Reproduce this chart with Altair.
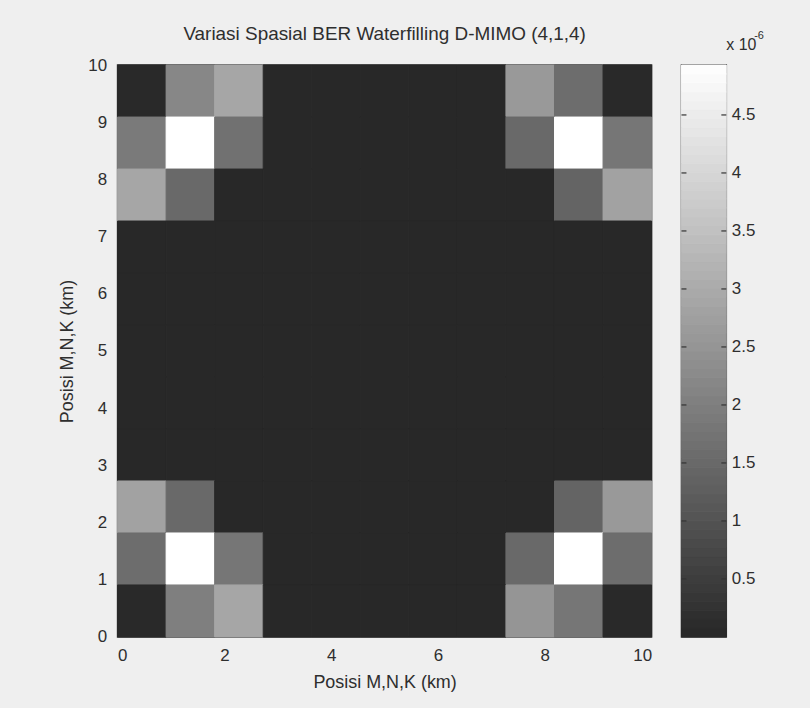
import altair as alt
import pandas as pd
import numpy as np

# ---- data (BER in units of 1e-6) ----
B = 0.03  # near-zero background
rows_top_to_bottom = [
    [0.05, 2.2, 2.9, B, B, B, B, B, 2.6, 1.6, 0.05],
    [1.9, 4.93, 1.7, B, B, B, B, B, 1.5, 4.93, 1.8],
    [2.9, 1.5, B, B, B, B, B, B, B, 1.4, 2.8],
    [B] * 11,
    [B] * 11,
    [B] * 11,
    [B] * 11,
    [B] * 11,
    [2.8, 1.5, B, B, B, B, B, B, B, 1.4, 2.6],
    [1.6, 4.93, 1.8, B, B, B, B, B, 1.5, 4.93, 1.6],
    [0.05, 2.0, 2.9, B, B, B, B, B, 2.5, 1.8, 0.05],
]
n_cells = 11
extent_km = 10
cbar_ticks = [0.5, 1, 1.5, 2, 2.5, 3, 3.5, 4, 4.5]
cbar_min, cbar_max = 0.0, 4.93
n_levels = 64

title_text = "Variasi Spasial BER Waterfilling D-MIMO (4,1,4)"
axis_title = "Posisi M,N,K (km)"
exp_base = ["x 10"]
exp_power = ["-6"]

# ---- build tables ----
step = extent_km / n_cells
recs = []
for r, row in enumerate(rows_top_to_bottom):
    yi = n_cells - 1 - r
    for c, v in enumerate(row):
        recs.append({"x": c * step, "x2": (c + 1) * step,
                     "y": yi * step, "y2": (yi + 1) * step, "ber": v})
cells = pd.DataFrame(recs)

lv = [(cbar_max - cbar_min) * i / n_levels + cbar_min for i in range(n_levels + 1)]
levels = pd.DataFrame({"lo": lv[:-1], "hi": lv[1:],
                       "mid": [(a + b) / 2 for a, b in zip(lv[:-1], lv[1:])]})
ticks = pd.DataFrame({"t": cbar_ticks})

FONT = "Liberation Sans"
TXT = "#2e2e2e"
color_scale = alt.Scale(domain=[cbar_min, cbar_max], range=["#272727", "#ffffff"],
                        interpolate="rgb")

main = alt.Chart(cells).mark_rect(strokeWidth=1).encode(
    x=alt.X("x:Q", scale=alt.Scale(domain=[0, 10], nice=False),
            axis=alt.Axis(title=axis_title, values=[0, 2, 4, 6, 8, 10],
                          ticks=False, domain=False, grid=False,
                          labelPadding=11, titlePadding=10)),
    x2="x2",
    y=alt.Y("y:Q", scale=alt.Scale(domain=[0, 10], nice=False),
            axis=alt.Axis(title=axis_title, values=list(range(0, 11)),
                          ticks=False, domain=False, grid=False,
                          labelPadding=11, titlePadding=11)),
    y2="y2",
    color=alt.Color("ber:Q", scale=color_scale, legend=None),
    stroke=alt.Stroke("ber:Q", scale=color_scale, legend=None),
).properties(
    width=536, height=574,
    title=alt.TitleParams(title_text, anchor="middle", offset=12,
                          fontSize=19, font=FONT, fontWeight="normal", color=TXT),
)

bar = alt.Chart(levels).mark_rect(strokeWidth=1).encode(
    y=alt.Y("lo:Q", scale=alt.Scale(domain=[cbar_min, cbar_max], nice=False, zero=False),
            axis=alt.Axis(orient="right", values=cbar_ticks, format="~g", title=None,
                          ticks=False, domain=False, grid=False, labelPadding=5)),
    y2="hi",
    color=alt.Color("mid:Q", scale=color_scale, legend=None),
    stroke=alt.Stroke("mid:Q", scale=color_scale, legend=None),
)
tick_l = alt.Chart(ticks).mark_rule(color="#333", strokeWidth=1.2).encode(
    y="t:Q", x=alt.value(0), x2=alt.value(5))
tick_r = alt.Chart(ticks).mark_rule(color="#333", strokeWidth=1.2).encode(
    y="t:Q", x=alt.value(40), x2=alt.value(45))
exp1 = alt.Chart(pd.DataFrame({"s": exp_base})).mark_text(
    align="left", baseline="middle", fontSize=16, font=FONT, color=TXT).encode(
    text="s:N", x=alt.value(45), y=alt.value(-20))
exp2 = alt.Chart(pd.DataFrame({"s": exp_power})).mark_text(
    align="left", baseline="middle", fontSize=11, font=FONT, color=TXT).encode(
    text="s:N", x=alt.value(73), y=alt.value(-29))

cbar = alt.layer(bar, tick_l, tick_r, exp1, exp2).properties(width=45, height=574)

chart = alt.hconcat(main, cbar, spacing=26).resolve_scale(
    color="shared", stroke="shared").properties(
    padding={"left": 58, "top": 23, "right": 45, "bottom": 14},
    background="#efefef",
).configure_view(
    stroke="#333", strokeWidth=1.5
).configure_axis(
    labelFont=FONT, titleFont=FONT, labelFontSize=17, titleFontSize=18,
    labelColor=TXT, titleColor=TXT, titleFontWeight="normal",
)

chart.save("out.html", embed_options={"renderer": "svg", "actions": False})
